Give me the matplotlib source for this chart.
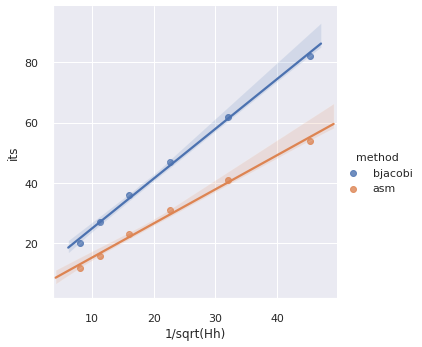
import matplotlib
matplotlib.use("Agg")
import matplotlib.pyplot as plt
import pandas as pd
import seaborn as sns

# iteration counts vs 1/sqrt(Hh) for the two preconditioners
inv_sqrt_hh = [8.0, 11.31, 16.0, 22.63, 32.0, 45.25]
its_bjacobi = [20, 27, 36, 47, 62, 82]
its_asm = [12, 16, 23, 31, 41, 54]

df = pd.DataFrame({
    "1/sqrt(Hh)": inv_sqrt_hh * 2,
    "its": its_bjacobi + its_asm,
    "method": ["bjacobi"] * len(its_bjacobi) + ["asm"] * len(its_asm),
})


def regplot_extend(x, y, **kws):
    # fit lines run to the current axis limits and are allowed to grow them,
    # so every later fit spans a bit wider than the one before
    ax = plt.gca()
    sns.regplot(x=x, y=y, ax=ax, truncate=False, seed=0, **kws)
    for line in ax.lines:
        line.sticky_edges.x.clear()
    ax.autoscale_view()


sns.set_theme()
plt.rcParams["xtick.major.pad"] = 9
plt.rcParams["ytick.major.pad"] = 9
g = sns.FacetGrid(df, hue="method", height=5)
g.map(regplot_extend, "1/sqrt(Hh)", "its")
g.ax.set_xlim(3.7, 49.7)
g.ax.set_ylim(2, 98.5)
g.ax.set_yticks([20, 40, 60, 80])
g.add_legend()
g._legend.get_title().set_fontsize(plt.rcParams["legend.fontsize"])
g.savefig("out.png", dpi=72, bbox_inches="tight")
